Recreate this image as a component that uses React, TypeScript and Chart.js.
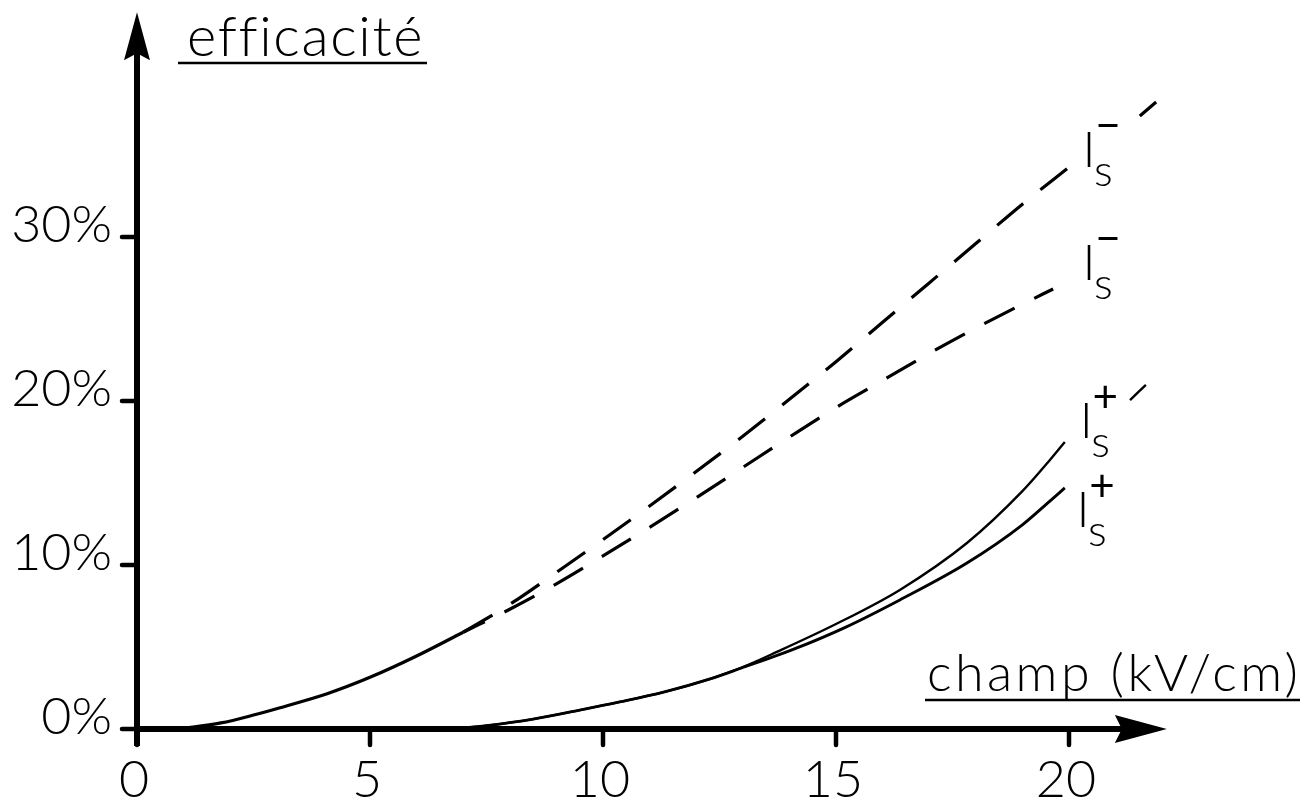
import React, { useEffect, useRef } from "react";
import { Chart, registerables } from "chart.js";

Chart.register(...registerables);

// ---- data (x: champ in kV/cm, y: efficacité in %) ----
const trunkX = [0.9, 1.8, 2.5, 3.07, 4.08, 5.0, 6.0, 7.0];
const trunkY = [0, 0.37, 0.85, 1.3, 2.15, 3.15, 4.45, 5.9];

const upperDashX = [7.0, 8.0, 9.0, 10.0, 11.0, 12.0, 13.0, 14.0, 15.0, 16.0, 17.0, 18.0, 19.0, 20.02, 20.6, 21.52, 21.87];
const upperDashY = [5.9, 7.6, 9.55, 11.55, 13.6, 15.7, 17.85, 20.1, 22.4, 24.8, 27.2, 29.6, 32.0, 34.3, null, 37.38, 38.23];

const lowerDashX = [7.0, 8.0, 9.0, 10.0, 11.0, 12.0, 13.0, 14.0, 15.0, 16.0, 17.0, 18.0, 19.0, 19.66];
const lowerDashY = [5.9, 7.3, 8.85, 10.55, 12.3, 14.1, 15.95, 17.8, 19.6, 21.25, 22.9, 24.45, 25.9, 26.83];

const upperSolidX = [6.8, 7.5, 8.5, 9.5, 10.36, 11.3, 12.3, 13.0, 13.73, 15.0, 16.37, 17.81, 19.0, 19.59, 19.91, 20.6, 21.31, 21.65];
const upperSolidY = [0, 0.2, 0.6, 1.15, 1.65, 2.25, 3.06, 3.78, 4.7, 6.4, 8.48, 11.34, 14.5, 16.4, 17.5, null, 20.06, 20.98];

const lowerSolidX = [6.8, 7.5, 8.5, 9.5, 10.36, 11.3, 12.3, 13.0, 13.5, 14.08, 15.2, 16.37, 17.81, 19.0, 19.59, 19.91];
const lowerSolidY = [0, 0.2, 0.6, 1.15, 1.65, 2.25, 3.06, 3.75, 4.25, 4.85, 6.2, 7.87, 10.12, 12.45, 13.9, 14.7];

// ---- axes / labels ----
const xTicks = [0, 5, 10, 15, 20];
const xTickLabels = ["0", "5", "10", "15", "20"];
const yTicks = [0, 10, 20, 30];
const yTickLabels = ["0%", "10%", "20%", "30%"];
const X_MAX = 25;
const Y_MAX = 44;
const X_ARROW_TIP = 22.1;
const Y_ARROW_TIP = 43.7;
const yTitle = "efficacité";
const xTitle = "champ (kV/cm)";

const seriesLabelX = [20.43, 20.43, 20.37, 20.3];
const seriesLabelY = [34.27, 27.38, 17.74, 12.32];
const seriesLabelSign = ["−", "−", "+", "+"];

const FONT = '"Lato", "Open Sans", "DejaVu Sans", sans-serif';

function pts(xs: number[], ys: (number | null)[]) {
  return xs.map((x, i) => ({ x, y: ys[i] }));
}

function fitText(ctx: CanvasRenderingContext2D, text: string, x: number, y: number, width: number) {
  (ctx as any).letterSpacing = "0px";
  const nat = ctx.measureText(text).width;
  const ls = (width - nat) / Math.max(1, text.length - 1);
  (ctx as any).letterSpacing = ls + "px";
  ctx.textAlign = "left";
  ctx.fillText(text, x, y);
  (ctx as any).letterSpacing = "0px";
}

const decor = {
  id: "decor",
  afterDatasetsDraw(chart: any) {
    const ctx: CanvasRenderingContext2D = chart.ctx;
    const xs = chart.scales.x;
    const ys = chart.scales.y;
    const x0 = xs.getPixelForValue(0);
    const y0 = ys.getPixelForValue(0);
    ctx.save();
    ctx.fillStyle = "#000";
    ctx.strokeStyle = "#000";
    ctx.lineCap = "butt";

    // y axis
    const yTip = ys.getPixelForValue(Y_ARROW_TIP);
    ctx.lineWidth = 6;
    ctx.beginPath();
    ctx.moveTo(x0, y0 + 17);
    ctx.lineTo(x0, yTip + 40);
    ctx.stroke();
    ctx.beginPath();
    ctx.moveTo(x0, yTip);
    ctx.lineTo(x0 - 13, yTip + 48);
    ctx.lineTo(x0, yTip + 41);
    ctx.lineTo(x0 + 13, yTip + 48);
    ctx.closePath();
    ctx.fill();

    // x axis
    const xTip = xs.getPixelForValue(X_ARROW_TIP);
    ctx.beginPath();
    ctx.moveTo(x0 - 3, y0);
    ctx.lineTo(xTip - 40, y0);
    ctx.stroke();
    ctx.beginPath();
    ctx.moveTo(xTip, y0);
    ctx.lineTo(xTip - 52, y0 - 14);
    ctx.lineTo(xTip - 45, y0);
    ctx.lineTo(xTip - 52, y0 + 14);
    ctx.closePath();
    ctx.fill();

    // ticks
    ctx.lineWidth = 4.5;
    ctx.lineCap = "round";
    yTicks.forEach((v) => {
      const py = ys.getPixelForValue(v);
      ctx.beginPath();
      ctx.moveTo(x0 - 15, py);
      ctx.lineTo(x0, py);
      ctx.stroke();
    });
    xTicks.forEach((v) => {
      const px = xs.getPixelForValue(v);
      ctx.beginPath();
      ctx.moveTo(px, y0);
      ctx.lineTo(px, y0 + 16);
      ctx.stroke();
    });

    // tick labels
    ctx.font = `300 52px ${FONT}`;
    ctx.textBaseline = "alphabetic";
    ctx.textAlign = "right";
    yTicks.forEach((v, i) => {
      const py = ys.getPixelForValue(v);
      ctx.fillText(yTickLabels[i], x0 - 25, py + 5);
    });
    ctx.textAlign = "center";
    xTicks.forEach((v, i) => {
      const px = xs.getPixelForValue(v);
      ctx.fillText(xTickLabels[i], px - 3, y0 + 68);
    });

    // axis titles (underlined)
    ctx.font = `300 56px ${FONT}`;
    fitText(ctx, yTitle, x0 + 50, 56, 232);
    ctx.lineWidth = 2.5;
    ctx.lineCap = "butt";
    ctx.beginPath();
    ctx.moveTo(x0 + 41, 63);
    ctx.lineTo(x0 + 290, 63);
    ctx.stroke();

    ctx.font = `300 52px ${FONT}`;
    fitText(ctx, xTitle, 927, y0 - 38, 371);
    ctx.beginPath();
    ctx.moveTo(925, y0 - 29);
    ctx.lineTo(1300, y0 - 29);
    ctx.stroke();

    // series labels  I_s^±
    seriesLabelX.forEach((lx, i) => {
      const px = xs.getPixelForValue(lx);
      const py = ys.getPixelForValue(seriesLabelY[i]);
      ctx.textAlign = "center";
      ctx.textBaseline = "alphabetic";
      ctx.font = `300 50px ${FONT}`;
      ctx.fillText("I", px, py);
      ctx.font = `300 44px ${FONT}`;
      ctx.textAlign = "left";
      ctx.fillText("s", px + 5, py + 19);
      ctx.font = `400 44px ${FONT}`;
      ctx.textAlign = "center";
      ctx.textBaseline = "middle";
      ctx.fillText(seriesLabelSign[i], px + 19, py - 40);
    });

    ctx.restore();
  },
};

export default function App() {
  const ref = useRef<HTMLCanvasElement | null>(null);
  useEffect(() => {
    if (!ref.current) return;
    const common = {
      borderColor: "#000",
      pointRadius: 0,
      fill: false,
      spanGaps: false,
      cubicInterpolationMode: "monotone" as const,
    };
    const chart = new Chart(ref.current, {
      type: "line",
      data: {
        datasets: [
          { ...common, label: "tronc", data: pts(trunkX, trunkY), borderWidth: 3.2 },
          { ...common, label: "Is- (1)", data: pts(upperDashX, upperDashY), borderWidth: 3.2, borderDash: [34, 22] },
          { ...common, label: "Is- (2)", data: pts(lowerDashX, lowerDashY), borderWidth: 3.2, borderDash: [34, 22], borderDashOffset: 10 },
          { ...common, label: "Is+ (1)", data: pts(upperSolidX, upperSolidY), borderWidth: 2.4 },
          { ...common, label: "Is+ (2)", data: pts(lowerSolidX, lowerSolidY), borderWidth: 2.9 },
        ],
      },
      options: {
        animation: false,
        responsive: true,
        maintainAspectRatio: false,
        layout: { padding: { left: 137, right: 12, top: 7.4, bottom: 78 } },
        plugins: { legend: { display: false }, tooltip: { enabled: false } },
        scales: {
          x: { type: "linear", min: 0, max: X_MAX, display: false },
          y: { type: "linear", min: 0, max: Y_MAX, display: false },
        },
      },
      plugins: [decor],
    });
    return () => chart.destroy();
  }, []);
  return (
    <div style={{ position: "fixed", left: 0, top: 0, width: 1314, height: 807, background: "#fff" }}>
      <canvas ref={ref} />
    </div>
  );
}
